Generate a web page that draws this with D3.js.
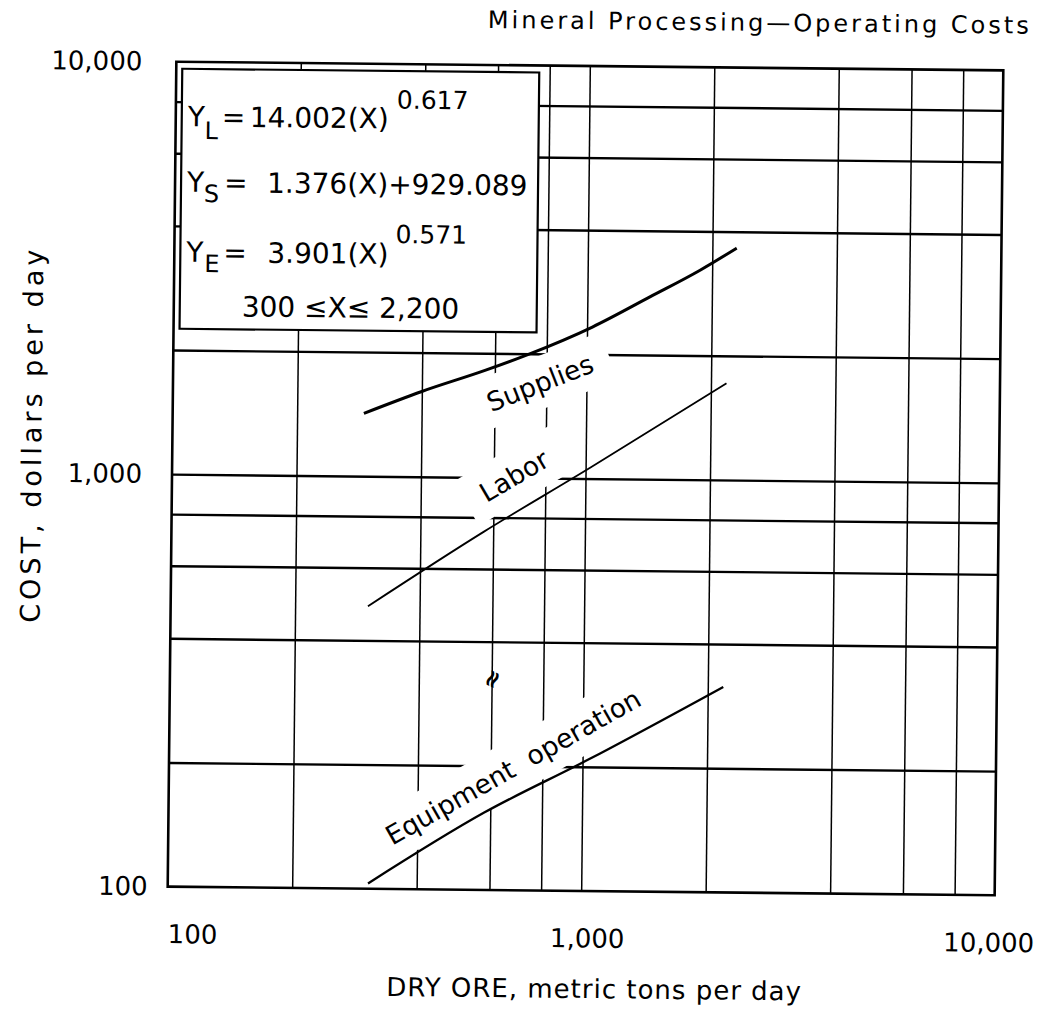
<!DOCTYPE html>
<html lang="en">
<head>
<meta charset="utf-8">
<title>Mineral Processing - Operating Costs</title>
<script src="https://cdn.jsdelivr.net/npm/d3@7"></script>
<style>
  body { margin: 0; background: #fff; }
  text { font-family: "DejaVu Sans", sans-serif; fill: #000; }
</style>
</head>
<body>
<script>
// tick labels and grid values of the log-log chart
var xTicks = [100, 1000, 10000];
var xTickLabels = ["100", "1,000", "10,000"];
var yTicks = [100, 1000, 10000];
var yTickLabels = ["100", "1,000", "10,000"];
var gridValues = [200, 400, 600, 800, 1000, 2000, 4000, 6000, 8000];

// curves (tons per day, dollars per day)
var suppliesTons = [290, 400, 570, 720, 1030, 1420, 1870, 2290];
var suppliesCost = [1420, 1610, 1820, 1990, 2330, 2770, 3220, 3650];
var laborTons = [300, 570, 1030, 2180];
var laborCost = [484, 739, 1065, 1716];
var equipTons = [305, 580, 1030, 2180];
var equipCost = [103, 154, 208, 315];

// curve labels
var labelNames = ["Supplies", "Labor", "Equipment  operation"];
var labelTons = [772, 672, 680];
var labelCost = [1699, 1010, 199];
var labelAngle = [-22, -31, -30];

var w = 1043, h = 1010;
var plotL = 172, plotR = 999, plotT = 66, plotB = 891;
var tilt = 0.6; // the scan is slightly turned

var x = d3.scaleLog().domain([100, 10000]).range([plotL, plotR]);
var y = d3.scaleLog().domain([100, 10000]).range([plotB, plotT]);

var svg = d3.select("body").append("svg")
    .attr("width", w)
    .attr("height", h);

var g = svg.append("g")
    .attr("transform", "rotate(" + tilt + "," + (plotL + plotR) / 2 + "," + (plotT + plotB) / 2 + ")");

// grid
var xGrid = g.append("g")
    .attr("transform", "translate(0," + plotB + ")")
    .call(d3.axisBottom(x).tickValues(gridValues).tickSize(-(plotB - plotT)).tickFormat(""));
xGrid.select(".domain").remove();
xGrid.selectAll("line").attr("stroke", "#000").attr("stroke-width", 1.5);

var yGrid = g.append("g")
    .attr("transform", "translate(" + plotL + ",0)")
    .call(d3.axisLeft(y).tickValues(gridValues).tickSize(-(plotR - plotL)).tickFormat(""));
yGrid.select(".domain").remove();
yGrid.selectAll("line").attr("stroke", "#000").attr("stroke-width", 2.4);

// small break mark on the 600 line
g.append("text")
    .attr("transform", "translate(" + x(600) + "," + y(325) + ") rotate(-65)")
    .attr("text-anchor", "middle")
    .attr("dy", "0.35em")
    .attr("font-size", 24)
    .attr("font-weight", "bold")
    .text("\u2248");

// equation box
var bx = plotL + 6, by = plotT + 7;
g.append("rect")
    .attr("x", bx).attr("y", by)
    .attr("width", 357).attr("height", 260)
    .attr("fill", "#fff").attr("stroke", "#000").attr("stroke-width", 2.2);

function put(txt, tx, ty, size) {
    return g.append("text").attr("x", tx).attr("y", ty).attr("font-size", size).text(txt);
}
put("Y", bx + 6, by + 57.5, 28);
put("L", bx + 23, by + 70, 24);
put("=", bx + 40, by + 57.5, 28);
put("14.002(X)", bx + 68, by + 57.5, 28);
put("0.617", bx + 215, by + 37.5, 25);

put("Y", bx + 6, by + 123, 28);
put("S", bx + 23, by + 133, 24);
put("=", bx + 43, by + 123, 28);
put("1.376(X)+929.089", bx + 86, by + 123, 28);

put("Y", bx + 6, by + 193, 28);
put("E", bx + 24, by + 203, 24);
put("=", bx + 43, by + 193, 28);
put("3.901(X)", bx + 87, by + 193, 28);
put("0.571", bx + 215, by + 172, 25);

put("300 \u2264X\u2264 2,200", bx + 62, by + 247, 28);

// curve labels with a white patch that breaks the grid
var labels = g.append("g");
labelNames.forEach(function (name, i) {
    var gl = labels.append("g")
        .attr("transform", "translate(" + x(labelTons[i]) + "," + y(labelCost[i]) + ") rotate(" + labelAngle[i] + ")");
    var t = gl.append("text")
        .attr("text-anchor", "middle")
        .attr("dy", "0.35em")
        .attr("font-size", 26.5)
        .style("white-space", "pre")
        .text(name);
    var bb = t.node().getBBox();
    gl.insert("rect", "text")
        .attr("x", bb.x - 18).attr("y", bb.y - 10)
        .attr("width", bb.width + 36).attr("height", bb.height + 20)
        .attr("fill", "#fff");
});

// curves
var line = d3.line()
    .x(function (d) { return x(d[0]); })
    .y(function (d) { return y(d[1]); })
    .curve(d3.curveMonotoneX);

var series = [
    { pts: d3.zip(suppliesTons, suppliesCost), sw: 3 },
    { pts: d3.zip(laborTons, laborCost), sw: 1.8 },
    { pts: d3.zip(equipTons, equipCost), sw: 2.3 }
];
g.selectAll("path.curve")
    .data(series)
    .enter()
    .append("path")
    .attr("class", "curve")
    .attr("d", function (d) { return line(d.pts); })
    .attr("fill", "none")
    .attr("stroke", "#000")
    .attr("stroke-width", function (d) { return d.sw; });

// frame
g.append("rect")
    .attr("x", plotL).attr("y", plotT)
    .attr("width", plotR - plotL).attr("height", plotB - plotT)
    .attr("fill", "none").attr("stroke", "#000").attr("stroke-width", 2.6);

// tick labels
var xAxis = g.append("g")
    .attr("transform", "translate(0," + plotB + ")")
    .call(d3.axisBottom(x).tickValues(xTicks).tickSize(0).tickPadding(38)
        .tickFormat(function (d, i) { return xTickLabels[i]; }));
xAxis.select(".domain").remove();
xAxis.selectAll("text")
    .attr("font-size", 26)
    .attr("text-anchor", function (d, i) { return i === 0 ? "start" : "middle"; })
    .attr("dx", function (d, i) { return i === 1 ? 6 : (i === 2 ? -6 : 0); });

var yAxis = g.append("g")
    .attr("transform", "translate(" + plotL + ",0)")
    .call(d3.axisLeft(y).tickValues(yTicks).tickSize(0).tickPadding(30)
        .tickFormat(function (d, i) { return yTickLabels[i]; }));
yAxis.select(".domain").remove();
yAxis.selectAll("text")
    .attr("font-size", 26)
    .attr("dx", function (d, i) { return i === 0 ? 10 : (i === 2 ? -4 : 0); });

// titles
g.append("text")
    .attr("x", 1027).attr("y", 29)
    .attr("text-anchor", "end")
    .attr("font-size", 24)
    .style("letter-spacing", "3px")
    .text("Mineral Processing\u2014Operating Costs");

g.append("text")
    .attr("x", (plotL + plotR) / 2 + 14).attr("y", 998)
    .attr("text-anchor", "middle")
    .attr("font-size", 26)
    .style("letter-spacing", "1px")
    .text("DRY ORE, metric tons per day");

g.append("text")
    .attr("transform", "translate(41,440) rotate(-90)")
    .attr("text-anchor", "middle")
    .attr("font-size", 27)
    .style("letter-spacing", "4px")
    .text("COST, dollars per day");
</script>
</body>
</html>
